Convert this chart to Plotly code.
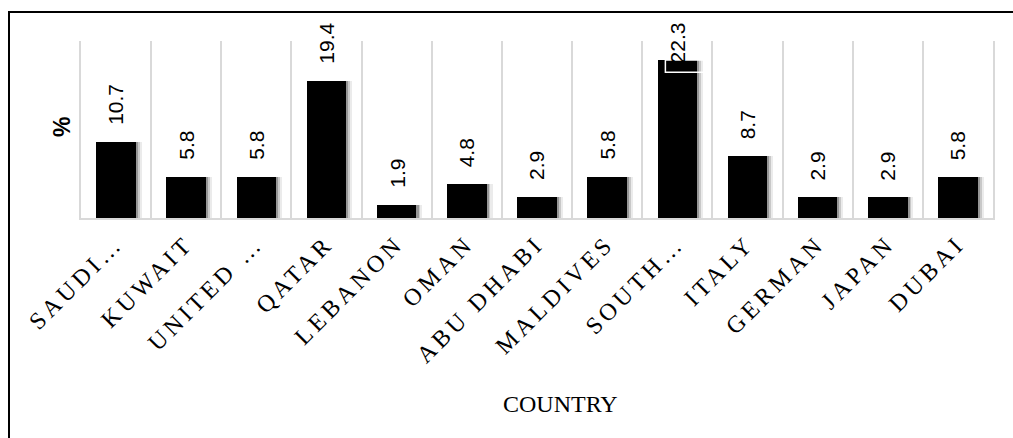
import plotly.graph_objects as go

# Share of respondents by country (%)
countries = ["SAUDI…", "KUWAIT", "UNITED …", "QATAR", "LEBANON", "OMAN",
             "ABU DHABI", "MALDIVES", "SOUTH…", "ITALY", "GERMAN", "JAPAN", "DUBAI"]
percent = [10.7, 5.8, 5.8, 19.4, 1.9, 4.8, 2.9, 5.8, 22.3, 8.7, 2.9, 2.9, 5.8]
label_ceiling = 19.4   # value labels are kept from running off the top of the chart

W, H = 1013, 438
M = dict(l=81, r=20, t=41, b=220)
plot_w = W - M["l"] - M["r"]
plot_h = H - M["t"] - M["b"]


def px_x(px):
    return (px - M["l"]) / plot_w


def px_y(py):
    return (H - M["b"] - py) / plot_h


BAR_W = 0.563
fig = go.Figure()

# soft drop shadow to the right of each bar
for dx, alpha in [(0.085, 0.08), (0.055, 0.15), (0.03, 0.25)]:
    fig.add_trace(go.Bar(
        x=countries, y=percent, width=BAR_W, offset=-BAR_W / 2 + dx,
        marker=dict(color=f"rgba(0,0,0,{alpha})", line=dict(width=0)),
        hoverinfo="skip", showlegend=False,
    ))

fig.add_trace(go.Bar(
    x=countries, y=percent, width=BAR_W, offset=-BAR_W / 2,
    marker=dict(color="#000000", line=dict(width=0)),
    showlegend=False,
))

# rotated value labels above the bars
for c, v in zip(countries, percent):
    fig.add_annotation(
        x=c, y=min(v, label_ceiling), xref="x", yref="y",
        text=f"{v:.1f}", textangle=-90, showarrow=False,
        yanchor="bottom", xanchor="center", yshift=15,
        font=dict(family="Liberation Sans, Arial", size=21, color="#000000"),
    )

# frame of the label that overlaps the tallest bar
top_i = percent.index(max(percent))
fig.add_shape(type="rect", xref="x", yref="y",
              x0=top_i - 0.17, x1=top_i + 0.38,
              y0=max(percent) - 1.7, y1=max(percent),
              line=dict(color="#ffffff", width=1.5), fillcolor="rgba(0,0,0,0)")

# axis titles
fig.add_annotation(text="COUNTRY", xref="paper", yref="paper",
                   x=px_x(560), y=px_y(404), showarrow=False,
                   xanchor="center", yanchor="middle",
                   font=dict(family="Liberation Serif, Times New Roman", size=24, color="#000000"))
fig.add_annotation(text="<b>%</b>", xref="paper", yref="paper",
                   x=px_x(62), y=px_y(127), showarrow=False, textangle=-90,
                   xanchor="center", yanchor="middle",
                   font=dict(family="Liberation Sans, Arial", size=23, color="#000000"))

# outer chart border (extends past the right and bottom edges)
fig.add_shape(type="rect", xref="paper", yref="paper",
              x0=px_x(9), x1=px_x(W + 20), y0=px_y(H + 20), y1=px_y(12),
              line=dict(color="#000000", width=2), fillcolor="rgba(0,0,0,0)",
              layer="below")

fig.update_layout(
    width=W, height=H, margin=M,
    paper_bgcolor="#ffffff", plot_bgcolor="#ffffff",
    barmode="overlay", bargap=0,
    xaxis=dict(
        type="category", categoryorder="array", categoryarray=countries,
        range=[-0.5, len(countries) - 0.5],
        tickson="boundaries", ticks="", showgrid=True,
        gridcolor="#d9d9d9", gridwidth=1.5,
        showline=True, linecolor="#d9d9d9", linewidth=2,
        tickangle=-45,
        tickfont=dict(family="Liberation Serif, Times New Roman", size=24, color="#000000"),
    ),
    yaxis=dict(
        range=[0, 25], showgrid=False, zeroline=False, showticklabels=False,
        ticks="", showline=True, mirror=True, linecolor="#d9d9d9", linewidth=1.5,
    ),
)

# widen the category labels' letter spacing
spacing_js = """
var gd = document.getElementsByClassName('plotly-graph-div')[0];
function spaceTicks() {
  gd.querySelectorAll('.xtick text').forEach(function (t) {
    t.style.letterSpacing = '4px';
  });
}
spaceTicks();
gd.on('plotly_afterplot', spaceTicks);
"""

fig.write_html("out.html", post_script=spacing_js)
